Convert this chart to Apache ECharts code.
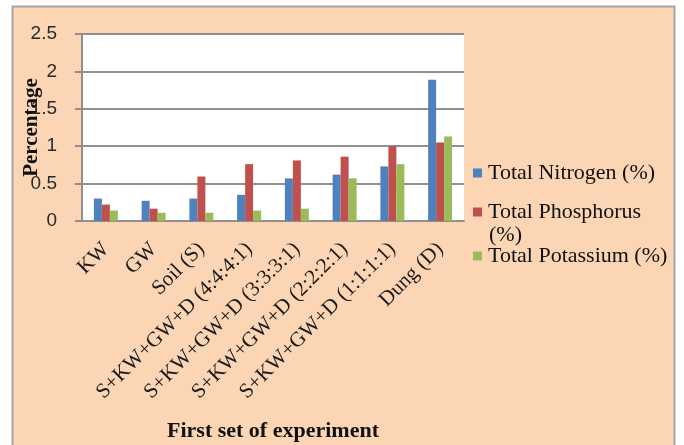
<!DOCTYPE html>
<html>
<head>
<meta charset="utf-8">
<script src="https://cdn.jsdelivr.net/npm/echarts@6/dist/echarts.min.js"></script>
<style>
  html, body { margin: 0; padding: 0; background: #ffffff; }
  #chart { width: 684px; height: 445px; }
</style>
</head>
<body>
<div id="chart"></div>
<script>
// Experiment groups along the x axis
const categories = [
  'KW', 'GW', 'Soil (S)',
  'S+KW+GW+D (4:4:4:1)', 'S+KW+GW+D (3:3:3:1)',
  'S+KW+GW+D (2:2:2:1)', 'S+KW+GW+D (1:1:1:1)', 'Dung (D)'
];

// Nutrient contents, percent
const nitrogen   = [0.30, 0.27, 0.30, 0.35, 0.57, 0.62, 0.73, 1.89];
const phosphorus = [0.22, 0.165, 0.595, 0.76, 0.81, 0.86, 1.00, 1.05];
const potassium  = [0.14, 0.11, 0.11, 0.14, 0.165, 0.57, 0.76, 1.13];

const seriesNames = ['Total Nitrogen (%)', 'Total Phosphorus (%)', 'Total Potassium (%)'];
const seriesColors = ['#4F81BD', '#C0504D', '#9BBB59'];

// Y axis scale
const yMin = 0, yMax = 2.5, yStep = 0.5;

const serif = '"Liberation Serif", "Times New Roman", serif';
const sans = '"Liberation Sans", Arial, sans-serif';
const gridColor = '#8f8f8f';

const chart = echarts.init(document.getElementById('chart'), null, { renderer: 'canvas' });

function legendFor(idx, top, label) {
  return {
    data: [seriesNames[idx]],
    left: 473,
    top: top,
    orient: 'vertical',
    icon: 'rect',
    itemWidth: 9,
    itemHeight: 9,
    itemGap: 0,
    padding: 0,
    selectedMode: false,
    formatter: () => label,
    textStyle: { fontFamily: serif, fontSize: 22, color: '#111', padding: [0, 0, 0, 1] }
  };
}

const option = {
  backgroundColor: '#ffffff',
  animation: false,
  graphic: [
    {
      type: 'rect',
      z: -10,
      shape: { x: 12.5, y: 6.5, width: 662, height: 445 },
      style: { fill: '#FCD5B5', stroke: '#a6a6a6', lineWidth: 2 }
    },
    {
      type: 'text',
      left: 489,
      top: 224,
      style: { text: '(%)', font: '22px ' + serif, fill: '#111' }
    }
  ],
  legend: [
    legendFor(0, 162, 'Total Nitrogen (%)'),
    legendFor(1, 201, 'Total Phosphorus'),
    legendFor(2, 245, 'Total Potassium (%)')
  ],
  grid: {
    left: 82, top: 34, right: 220, bottom: 224,
    outerBoundsMode: 'none',
    containLabel: false,
    show: true, backgroundColor: '#ffffff', borderWidth: 0
  },
  xAxis: {
    type: 'category',
    data: categories,
    name: 'First set of experiment',
    nameLocation: 'middle',
    nameGap: 199,
    nameMoveOverlap: false,
    nameTextStyle: { fontFamily: serif, fontSize: 22, fontWeight: 'bold', color: '#111' },
    axisLine: { lineStyle: { color: gridColor, width: 2 } },
    axisTick: { show: false },
    axisLabel: {
      interval: 0,
      rotate: 45,
      margin: 25,
      fontFamily: serif,
      fontSize: 21,
      color: '#1a1a1a'
    }
  },
  yAxis: {
    type: 'value',
    min: yMin, max: yMax, interval: yStep,
    name: 'Percentage',
    nameLocation: 'middle',
    nameGap: 40,
    nameRotate: 90,
    nameMoveOverlap: false,
    nameTextStyle: { fontFamily: serif, fontSize: 21, fontWeight: 'bold', color: '#111' },
    axisLine: { show: true, lineStyle: { color: gridColor, width: 2 } },
    axisTick: { show: true, length: 7, lineStyle: { color: gridColor, width: 2 } },
    splitLine: { lineStyle: { color: gridColor, width: 2 } },
    axisLabel: {
      margin: 25,
      fontFamily: sans,
      fontSize: 19,
      color: '#2a2a2a',
      formatter: v => String(v)
    }
  },
  series: [nitrogen, phosphorus, potassium].map((vals, i) => ({
    name: seriesNames[i],
    type: 'bar',
    data: vals,
    barWidth: 8,
    barGap: '0%',
    itemStyle: { color: seriesColors[i] }
  }))
};

chart.setOption(option);
</script>
</body>
</html>
